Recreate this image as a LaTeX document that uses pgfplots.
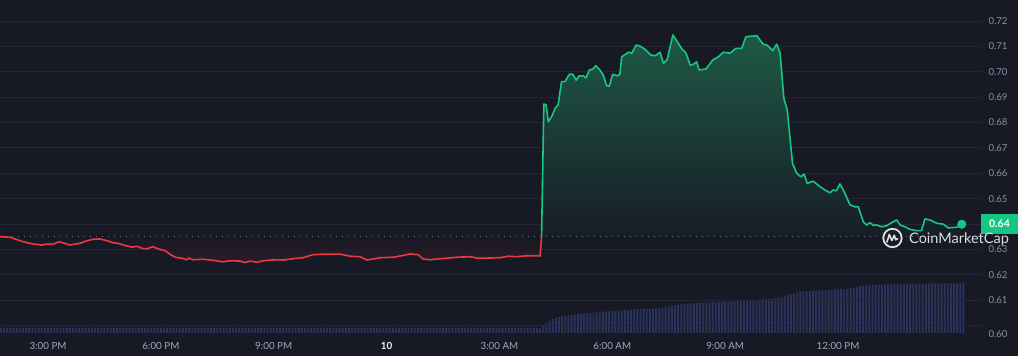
\documentclass[border=0pt]{standalone}
\usepackage{pgfplots}
\pgfplotsset{compat=1.18}
\usepackage{pgfplotstable}
\usepackage{fontspec}
\setmainfont{Lato}
\definecolor{bg}{HTML}{171924}
\definecolor{gridc}{HTML}{232633}
\definecolor{redc}{HTML}{EA3943}
\definecolor{grnc}{HTML}{16C784}
\definecolor{volc}{HTML}{2A335C}
\definecolor{xlab}{HTML}{A1A7BB}
\definecolor{ylab}{HTML}{8A8FA0}
\definecolor{gtop}{HTML}{1F6049}
\definecolor{gbot}{HTML}{181E27}
\definecolor{rbot}{HTML}{2C1C27}
\definecolor{basec}{HTML}{6E7382}

\pgfplotstableread{
h v
13.72 0.6350
13.99 0.6348
14.12 0.6341
14.34 0.6330
14.60 0.6321
14.84 0.6317
14.97 0.6321
15.13 0.6320
15.29 0.6330
15.40 0.6326
15.58 0.6317
15.72 0.6321
15.85 0.6324
16.04 0.6334
16.20 0.6340
16.38 0.6341
16.57 0.6334
16.73 0.6326
16.86 0.6324
17.05 0.6315
17.23 0.6309
17.37 0.6312
17.50 0.6304
17.63 0.6302
17.79 0.6311
17.92 0.6302
18.11 0.6295
18.24 0.6281
18.38 0.6269
18.56 0.6265
18.69 0.6259
18.75 0.6266
18.85 0.6259
19.12 0.6261
19.39 0.6257
19.63 0.6251
19.84 0.6255
20.10 0.6254
20.24 0.6248
20.37 0.6254
20.56 0.6249
20.72 0.6255
20.95 0.6258
21.17 0.6259
21.25 0.6258
21.62 0.6265
21.78 0.6267
22.04 0.6279
22.31 0.6281
22.76 0.6281
23.03 0.6273
23.29 0.6271
23.48 0.6258
23.64 0.6262
23.83 0.6267
24.17 0.6269
24.41 0.6275
24.62 0.6282
24.84 0.6279
24.97 0.6262
25.15 0.6259
25.42 0.6263
25.61 0.6265
25.87 0.6269
26.22 0.6271
26.43 0.6265
26.75 0.6266
27.01 0.6267
27.23 0.6273
27.47 0.6271
27.73 0.6275
28.08 0.6274
28.12 0.6350
}\redtable

\pgfplotstableread{
h v
28.12 0.6350
28.18 0.6873
28.24 0.6869
28.30 0.6803
28.39 0.6823
28.48 0.6856
28.56 0.6869
28.65 0.6961
28.74 0.6961
28.86 0.6990
28.95 0.6990
29.04 0.6967
29.12 0.6984
29.23 0.6984
29.30 0.6976
29.39 0.7007
29.48 0.7010
29.56 0.7024
29.67 0.7007
29.76 0.6987
29.85 0.6945
29.92 0.6943
30.01 0.6990
30.13 0.6984
30.20 0.6990
30.25 0.7059
30.43 0.7077
30.52 0.7073
30.63 0.7105
30.74 0.7101
30.87 0.7088
31.02 0.7066
31.14 0.7063
31.27 0.7077
31.36 0.7033
31.46 0.7049
31.61 0.7145
31.71 0.7122
31.84 0.7092
31.96 0.7073
32.07 0.7026
32.15 0.7029
32.24 0.7039
32.31 0.7007
32.49 0.7011
32.67 0.7046
32.82 0.7059
32.95 0.7077
33.13 0.7073
33.28 0.7092
33.44 0.7092
33.55 0.7138
33.84 0.7142
34.01 0.7109
34.12 0.7104
34.26 0.7083
34.37 0.7109
34.46 0.7073
34.56 0.6895
34.65 0.6849
34.79 0.6639
34.90 0.6600
35.01 0.6586
35.10 0.6597
35.18 0.6560
35.34 0.6569
35.52 0.6547
35.65 0.6534
35.79 0.6523
35.87 0.6534
35.96 0.6531
36.05 0.6558
36.14 0.6534
36.32 0.6475
36.45 0.6468
36.54 0.6468
36.67 0.6409
36.76 0.6396
36.85 0.6405
36.94 0.6395
37.03 0.6396
37.16 0.6389
37.29 0.6393
37.47 0.6409
37.56 0.6416
37.65 0.6396
37.78 0.6389
37.91 0.6379
38.09 0.6374
38.22 0.6374
38.31 0.6420
38.44 0.6416
38.62 0.6403
38.80 0.6399
38.93 0.6385
39.15 0.6387
39.29 0.6399
}\grntable

\pgfplotstableread{
h v
39.29 0.6350
}\grnend
\pgfplotstablevertcat{\grnfill}{\grntable}
\pgfplotstablevertcat{\grnfill}{\grnend}

\pgfplotstableread[row sep=\\]{
vol\\
5\\5\\5\\5\\5\\5\\5\\5\\5\\5\\
5\\5\\5\\5\\5\\5\\5\\5\\5\\5\\
5\\5\\5\\5\\5\\5\\5\\5\\5\\5\\
5\\5\\5\\5\\5\\5\\5\\5\\5\\5\\
5\\5\\5\\5\\5\\5\\5\\5\\5\\5\\
5\\5\\5\\5\\5\\5\\5\\5\\5\\5\\
5\\5\\5\\5\\5\\5\\5\\5\\5\\5\\
5\\5\\5\\5\\5\\5\\5\\5\\5\\5\\
5\\5\\5\\5\\5\\5\\5\\5\\5\\5\\
5\\5\\5\\5\\5\\5\\5\\5\\5\\5\\
5\\5\\5\\5\\5\\5\\5\\5\\5\\5\\
5\\5\\5\\5\\5\\5\\5\\5\\5\\5\\
5\\5\\5\\5\\5\\5\\5\\5\\5\\5\\
5\\5\\5\\5\\5\\5\\5\\5\\5\\5\\
5\\5\\5\\5\\5\\5\\5\\5\\5\\5\\
5\\5\\5\\5\\5\\5\\5\\5\\5\\5\\
5\\5\\5\\5\\5\\5\\5\\5\\5\\5\\
5\\5\\5\\
7\\10\\12\\14\\15\\16\\16.5\\17\\17.5\\18\\
18.5\\19\\19\\19.5\\19.7\\20\\20.3\\20.6\\21\\21.3\\
21.5\\21.7\\22\\22\\22.3\\22.6\\23\\23.2\\23.5\\23.7\\
23.8\\24\\24.1\\24.2\\24.3\\24.4\\24.5\\24.7\\25.2\\25.8\\
26.4\\27\\27.5\\28\\28.5\\29\\29.2\\29.4\\29.6\\29.8\\
30\\30.2\\30.5\\30.7\\30.8\\30.9\\31\\31.1\\31.3\\31.4\\
31.5\\31.7\\31.9\\32.1\\32.4\\32.6\\32.8\\33\\33.2\\33.4\\
33.6\\33.8\\34\\34.3\\34.8\\35.2\\35.7\\37\\38\\38.8\\
39.7\\40.5\\41.3\\41.6\\41.9\\42.1\\42.3\\42.4\\42.5\\42.6\\
42.7\\42.8\\43\\43.5\\44\\44\\44\\44\\45\\45.7\\
46.3\\47\\47.3\\47.7\\48\\48.1\\48.2\\48.3\\48.4\\48.5\\
48.6\\48.7\\48.7\\48.8\\48.8\\48.9\\48.9\\49\\49\\49\\
49\\49.2\\49.3\\49.4\\49.5\\49.6\\49.7\\49.7\\49.7\\49.7\\
49.7\\49.7\\49.7\\49.7\\49.7\\
}\voltable

\begin{document}
\begin{tikzpicture}
\fill[bg] (0pt,0pt) rectangle (1018pt,356pt);
\useasboundingbox (0pt,0pt) rectangle (1018pt,356pt);

% volume axis
\begin{axis}[at={(0pt,23pt)}, anchor=south west, scale only axis,
  width=982pt, height=333pt,
  xmin=13.724, xmax=39.827, ymin=0, ymax=333, hide axis]
\addplot[ybar, bar width=1.9pt, bar shift=0pt, fill=volc, draw=none]
  table[x expr=13.75+\coordindex/12, y=vol] {\voltable};
\end{axis}

% price axis
\begin{axis}[at={(0pt,23pt)}, anchor=south west, scale only axis,
  width=982pt, height=333pt,
  xmin=13.724, xmax=39.827, ymin=0.597044, ymax=0.728276,
  axis line style={draw=none}, major tick length=0pt,
  ymajorgrids, grid style={gridc, line width=0.8pt},
  xtick={15,18,21,24,27,30,33,36},
  xticklabels={3:00 PM,6:00 PM,9:00 PM,\textcolor{white!88!xlab}{\textbf{10}},3:00 AM,6:00 AM,9:00 AM,12:00 PM},
  xticklabel style={font=\fontsize{9.8}{10}\selectfont, text=xlab, anchor=center, yshift=-13pt},
  ytick={0.61,0.62,0.63,0.64,0.65,0.66,0.67,0.68,0.69,0.70,0.71,0.72},
  yticklabels={0.61,0.62,0.63,{},0.65,0.66,0.67,0.68,0.69,0.70,0.71,0.72},
  extra y ticks={0.60}, extra y tick labels={0.60},
  extra y tick style={yticklabel style={yshift=-8.5pt}},
  yticklabel pos=right,
  yticklabel style={font=\fontsize{9.6}{10}\selectfont, text=ylab, anchor=west, xshift=3pt},
]
\draw[gridc, line width=0.8pt] (rel axis cs:1,0) -- (rel axis cs:1,1);
\addplot[top color=bg, bottom color=rbot, draw=none] table[x=h, y=v] {\redtable};
\addplot[top color=gtop, bottom color=gbot, draw=none, fill opacity=0.9] table[x=h, y=v] {\grnfill};
\addplot[basec, line width=1pt, dash pattern=on 1.2pt off 4.8pt] coordinates {(13.724,0.635) (39.827,0.635)};
\addplot[redc, line width=1.6pt, line join=round] table[x=h, y=v] {\redtable};
\addplot[grnc, line width=1.6pt, line join=round] table[x=h, y=v] {\grntable};
\addplot[only marks, mark=*, mark size=4.3pt, grnc] coordinates {(39.29,0.6399)};
\end{axis}

% price box
\fill[grnc] (981pt,122pt) rectangle (1018pt,142pt);
\node[text=white, font=\fontsize{10.5}{10}\selectfont\bfseries] at (999.5pt,132pt) {0.64};

% watermark
\begin{scope}[shift={(892.5pt,118pt)}]
\draw[white!85!bg, line width=1.8pt] (0,0) circle (9.2pt);
\draw[white!85!bg, line width=1.6pt, line join=round, line cap=round]
  (-5.5pt,-4pt) -- (-3.2pt,3.5pt) -- (-0.6pt,-2.5pt) -- (1.8pt,2.8pt) -- (3.2pt,-1.8pt) -- (5.2pt,-0.6pt);
\end{scope}
\node[anchor=base west, inner sep=0pt, text=white!85!bg, font=\fontsize{14.5}{15}\selectfont] at (909pt,112pt) {CoinMarketCap};
\end{tikzpicture}
\end{document}
